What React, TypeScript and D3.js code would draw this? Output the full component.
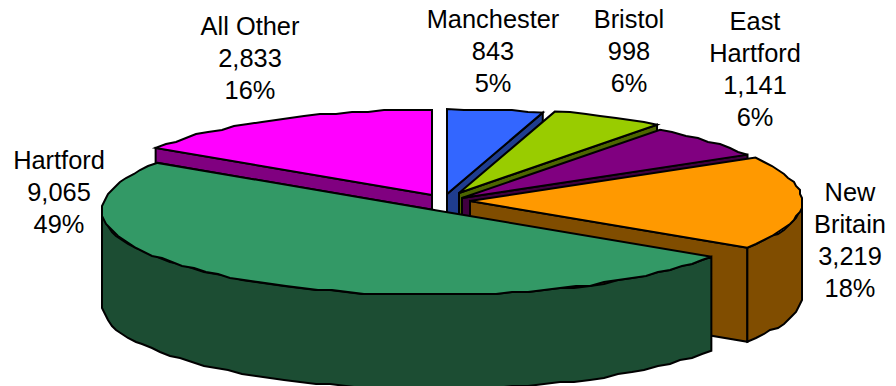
import React from "react";
import * as d3 from "d3";

// Commuter counts by town of origin, clockwise from twelve o'clock.
const towns = ["Manchester", "Bristol", "East Hartford", "New Britain", "Hartford", "All Other"];
const counts = [843, 998, 1141, 3219, 9065, 2833];
const countLabels = ["843", "998", "1,141", "3,219", "9,065", "2,833"];
const shareLabels = ["5%", "6%", "6%", "18%", "49%", "16%"];

const topColors = ["#3366FF", "#99CC00", "#800080", "#FF9900", "#339966", "#FF00FF"];
const sideColors = ["#1F3D8F", "#4D6600", "#400040", "#804D00", "#1C4D33", "#800080"];

// Apex of each exploded wedge on the page.
const apexX = [447, 459, 462, 470, 434, 432];
const apexY = [194, 193, 198, 201, 210, 195];

// Text placement: centre x and first baseline; wrapped names span several lines.
const labelX = [493, 629, 755, 850, 59, 250];
const labelY = [28, 28, 30, 201, 169, 35];
const labelNames = [["Manchester"], ["Bristol"], ["East", "Hartford"], ["New", "Britain"], ["Hartford"], ["All Other"]];

const RX = 332;
const RY = 85;
const DEPTH = 94;
const FONT_SIZE = 25.4;
const LINE_HEIGHT = 32;

type Pt = [number, number];

// Walk an elliptical rim on a coarse device grid, as a low-resolution plotter would.
function rim(cx: number, cy: number, a0: number, a1: number): Pt[] {
  const steps = Math.max(1, Math.round(Math.abs(a1 - a0) / 0.05));
  const t = d3.scaleLinear().domain([0, steps]).range([a0, a1]);
  return d3.range(steps + 1).map((i) => {
    const a = t(i);
    const x = cx + RX * Math.sin(a);
    const y = cy - RY * Math.cos(a);
    if (i === 0 || i === steps) return [x, y] as Pt;
    return [Math.round(x / 2) * 2, Math.round(y / 2) * 2] as Pt;
  });
}

const pathOf = (pts: Pt[], close = true) => (d3.line()(pts) ?? "") + (close ? "Z" : "");
const drop = (pts: Pt[]): Pt[] => pts.map(([x, y]) => [x, y + DEPTH]);

export default function App() {
  const arcs = d3
    .pie<number>()
    .sort(null)
    .startAngle(0)
    .endAngle(2 * Math.PI)(counts);

  // Back wedges first; Hartford sits in front of everything else.
  const order = [5, 0, 1, 2, 3, 4];

  return (
    <svg width={896} height={386} style={{ position: "absolute", left: 0, top: 0, background: "#fff" }}>
      {order.map((i) => {
        const { startAngle: a0, endAngle: a1 } = arcs[i];
        const cx = apexX[i];
        const cy = apexY[i];
        const apex: Pt = [cx, cy];
        const stroke = { stroke: "#000", strokeWidth: 2, strokeLinejoin: "miter" as const };

        // Cut faces that look toward the viewer.
        const faces: Pt[][] = [];
        const faceFor = (a: number, visible: boolean) => {
          if (!visible) return;
          const p: Pt = [cx + RX * Math.sin(a), cy - RY * Math.cos(a)];
          faces.push([apex, p, [p[0], p[1] + DEPTH], [cx, cy + DEPTH]]);
        };
        faceFor(a0, Math.sin(a0) < 0);
        faceFor(a1, Math.sin(a1) > 0 || Math.sin(a1) < -0.01);

        // Curved outer wall covers only the part of the rim facing front.
        const w0 = Math.max(a0, Math.PI / 2);
        const w1 = Math.min(a1, (3 * Math.PI) / 2);
        const wall = w1 > w0 ? rim(cx, cy, w0, w1) : null;

        return (
          <g key={towns[i]}>
            {faces.map((f, k) => (
              <path key={k} d={pathOf(f)} fill={sideColors[i]} {...stroke} />
            ))}
            {wall && <path d={pathOf([...wall, ...drop(wall).reverse()])} fill={sideColors[i]} {...stroke} />}
            <path d={pathOf([apex, ...rim(cx, cy, a0, a1)])} fill={topColors[i]} {...stroke} />
          </g>
        );
      })}
      <g fontFamily="'Liberation Sans', Arial, sans-serif" fontSize={FONT_SIZE} fill="#000" textAnchor="middle">
        {towns.map((t, i) => {
          const lines = [...labelNames[i], countLabels[i], shareLabels[i]];
          return (
            <text key={t}>
              {lines.map((s, k) => (
                <tspan key={k} x={labelX[i]} y={labelY[i] + k * LINE_HEIGHT}>
                  {s}
                </tspan>
              ))}
            </text>
          );
        })}
      </g>
    </svg>
  );
}
